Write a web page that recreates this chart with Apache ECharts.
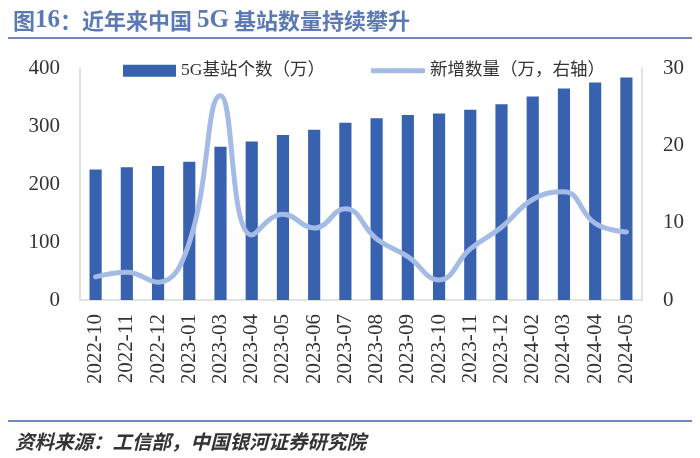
<!DOCTYPE html>
<html>
<head>
<meta charset="utf-8">
<script src="https://cdn.jsdelivr.net/npm/echarts@6/dist/echarts.min.js"></script>
<style>
  html, body { margin: 0; padding: 0; background: #fff; }
  #main { width: 700px; height: 458px; }
</style>
</head>
<body>
<div id="main"></div>
<script>
    // 数据
    var months = ['2022-10', '2022-11', '2022-12', '2023-01', '2023-03', '2023-04', '2023-05', '2023-06', '2023-07',
        '2023-08', '2023-09', '2023-10', '2023-11', '2023-12', '2024-02', '2024-03', '2024-04', '2024-05'];
    var stations = [225.1, 228.7, 231.2, 238.4, 264.4, 273.3, 284.4, 293.7, 305.5,
        313.2, 318.9, 321.5, 328.2, 337.7, 350.9, 364.7, 374.8, 383.7];
    var added = [3.0, 3.6, 2.3, 7.4, 26.4, 8.4, 11.1, 9.3, 11.8,
        7.9, 5.6, 2.6, 6.6, 9.4, 13.0, 14.0, 9.9, 8.8];
    var leftTicks = [0, 100, 200, 300, 400];
    var rightTicks = [0, 10, 20, 30];

    var serif = '"Liberation Serif", "Noto Sans CJK SC", serif';
    var cjk = '"Liberation Serif", "Noto Sans CJK SC", sans-serif';

    var chart = echarts.init(document.getElementById('main'));
    var option = {
        backgroundColor: '#fff',
        animation: false,
        title: [{
            text: '{a|图}{n|16}{a|：近年来中国 }{n|5G}{a| 基站数量持续攀升}',
            left: 8,
            top: 3,
            textStyle: {
                rich: {
                    a: { fontFamily: '"Noto Sans CJK SC"', fontWeight: 'bold', fontSize: 22, color: '#5b79b3' },
                    n: { fontFamily: serif, fontWeight: 'bold', fontSize: 25, color: '#5b79b3' }
                }
            }
        }, {
            text: '资料来源：工信部，中国银河证券研究院',
            left: 10,
            top: 427,
            textStyle: { fontFamily: '"Noto Sans CJK SC"', fontWeight: 'bold', fontStyle: 'italic', fontSize: 19.5, color: '#333' }
        }],
        graphic: [
            { type: 'line', shape: { x1: 8, y1: 38, x2: 692, y2: 38 }, style: { stroke: '#7088c0', lineWidth: 2 } },
            { type: 'line', shape: { x1: 8, y1: 421, x2: 692, y2: 421 }, style: { stroke: '#7088c0', lineWidth: 2 } }
        ],
        legend: [{
            data: ['5G基站个数（万）'],
            left: 118,
            top: 57,
            icon: 'rect',
            itemWidth: 53,
            itemHeight: 12,
            itemGap: 4,
            textStyle: { fontFamily: cjk, fontSize: 17.5, color: '#333' }
        }, {
            data: ['新增数量（万，右轴）'],
            left: 366,
            top: 57,
            icon: 'roundRect',
            itemWidth: 54,
            itemHeight: 5,
            textStyle: { fontFamily: cjk, fontSize: 17.5, color: '#333' }
        }],
        grid: { left: 80, right: 58, top: 68, bottom: 158 },
        xAxis: {
            type: 'category',
            data: months,
            axisLine: { lineStyle: { color: '#d9d9d9', width: 1.5 } },
            axisTick: { show: false },
            axisLabel: { rotate: 90, margin: 14, fontFamily: serif, fontSize: 21, color: '#333', interval: 0 }
        },
        yAxis: [{
            type: 'value',
            min: leftTicks[0],
            max: leftTicks[leftTicks.length - 1],
            interval: 100,
            axisLine: { show: true, lineStyle: { color: '#d9d9d9', width: 1.5 } },
            axisTick: { show: false },
            splitLine: { show: false },
            axisLabel: { margin: 20, fontFamily: serif, fontSize: 21, color: '#333' }
        }, {
            type: 'value',
            min: rightTicks[0],
            max: rightTicks[rightTicks.length - 1],
            interval: 10,
            axisLine: { show: true, lineStyle: { color: '#d9d9d9', width: 1.5 } },
            axisTick: { show: false },
            splitLine: { show: false },
            axisLabel: { margin: 21, fontFamily: serif, fontSize: 21, color: '#333' }
        }],
        series: [{
            name: '5G基站个数（万）',
            type: 'bar',
            data: stations,
            barWidth: '39%',
            itemStyle: { color: '#3862b0' }
        }, {
            name: '新增数量（万，右轴）',
            type: 'line',
            yAxisIndex: 1,
            data: added,
            smooth: 0.45,
            symbol: 'none',
            lineStyle: { color: '#a3bbe5', width: 5, cap: 'round' },
            itemStyle: { color: '#a3bbe5' },
            z: 3
        }]
    };
    chart.setOption(option);
</script>
</body>
</html>
